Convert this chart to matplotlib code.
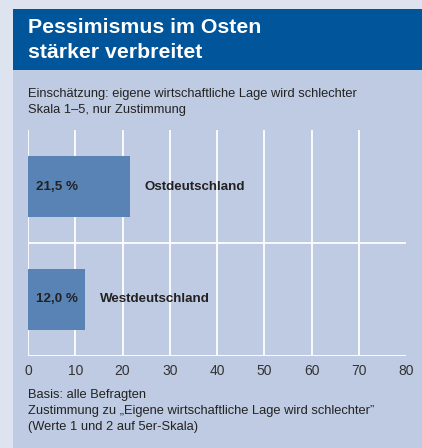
import matplotlib.pyplot as plt
from matplotlib.patches import Rectangle

regions = ["Westdeutschland", "Ostdeutschland"]
values = [12.0, 21.5]
value_labels = ["12,0 %", "21,5 %"]
xticks = [0, 10, 20, 30, 40, 50, 60, 70, 80]

title = "Pessimismus im Osten\nstärker verbreitet"
subtitle = "Einschätzung: eigene wirtschaftliche Lage wird schlechter\nSkala 1\u20135, nur Zustimmung"
footnote = ("Basis: alle Befragten\n"
            "Zustimmung zu \u201eEigene wirtschaftliche Lage wird schlechter\u201d\n"
            "(Werte 1 und 2 auf 5er-Skala)")

plt.rcParams['font.family'] = ['Liberation Sans', 'DejaVu Sans']

W, H = 422, 448
fig = plt.figure(figsize=(W / 100, H / 100), dpi=100)
fig.patch.set_facecolor("#dde3ef")

# panel + title band (pixel coords -> figure fractions)
fig.patches.append(Rectangle((13 / W, 0), 1 - 13 / W, 1 - 9 / H, transform=fig.transFigure,
                             facecolor="#bfcbe2", edgecolor="none", zorder=0))
fig.patches.append(Rectangle((13 / W, 1 - 70 / H), 1 - 13 / W, 61 / H, transform=fig.transFigure,
                             facecolor="#00559b", edgecolor="none", zorder=0))

fig.text(28 / W, 1 - 40 / H, title, color="white", fontsize=15.3, fontweight="bold",
         va="center", ha="left", linespacing=1.38, zorder=3)
fig.text(28 / W, 1 - 102 / H, subtitle, color="#222222", fontsize=9.3,
         va="center", ha="left", linespacing=1.5, zorder=3)
fig.text(28 / W, 1 - 411 / H, footnote, color="#222222", fontsize=9.3,
         va="center", ha="left", linespacing=1.45, zorder=3)

ax = fig.add_axes([28 / W, (H - 356) / H, (406 - 28) / W, (356 - 130) / H])
ax.set_zorder(2)
ax.set_facecolor("none")
ypos = list(range(len(regions)))
ax.barh(ypos, values, height=0.54, color="#5a83b5", zorder=2)
for y, v, lab, name in zip(ypos, values, value_labels, regions):
    ax.annotate(lab, (0, y), xytext=(6, 0), textcoords="offset points",
                va="center", ha="left", fontsize=9.6, fontweight="bold", color="#222222", zorder=3)
    ax.annotate(name, (v, y), xytext=(11, 0), textcoords="offset points",
                va="center", ha="left", fontsize=9.6, fontweight="bold", color="#222222", zorder=3)

ax.set_xlim(0, 80)
ax.set_ylim(-0.5, 1.5)
ax.set_xticks(xticks)
ax.set_xticklabels([str(t) for t in xticks], fontsize=10, color="#333333")
ax.set_yticks([])
ax.tick_params(axis="x", length=0, pad=6)
ax.set_axisbelow(True)
ax.grid(axis="x", color="white", linewidth=1.3)
ax.get_xgridlines()[-1].set_visible(False)
for y in [-0.5, 0.5]:
    ax.axhline(y, color="white", linewidth=1.3, zorder=1)
for s in ax.spines.values():
    s.set_visible(False)

fig.savefig("out.png", dpi=100, facecolor=fig.get_facecolor())
